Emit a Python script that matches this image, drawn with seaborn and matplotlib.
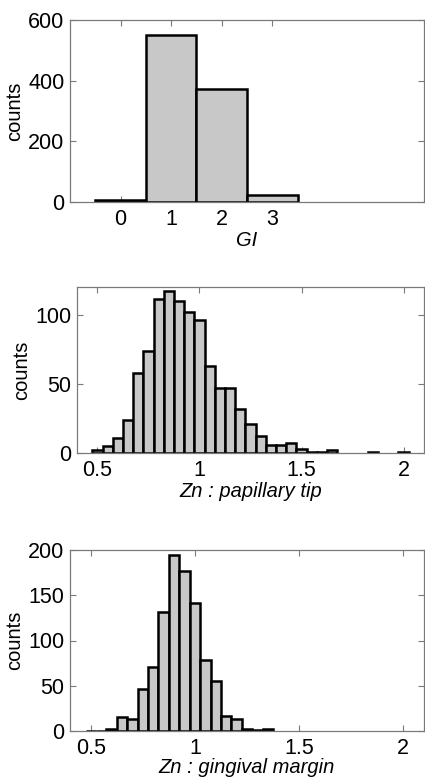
import numpy as np
import pandas as pd
import matplotlib
matplotlib.use("Agg")
import matplotlib.pyplot as plt
import seaborn as sns

# ---- data ----
gi_levels = [0, 1, 2, 3]
gi_counts = [5, 550, 373, 22]

tip_centers = [0.50, 0.55, 0.60, 0.65, 0.70, 0.75, 0.80, 0.85, 0.90, 0.95,
               1.00, 1.05, 1.10, 1.15, 1.20, 1.25, 1.30, 1.35, 1.40, 1.45,
               1.50, 1.55, 1.60, 1.65, 1.70, 1.75, 1.80, 1.85, 1.90, 1.95, 2.00]
tip_counts = [2, 5, 11, 24, 58, 74, 111, 117, 110, 102,
              96, 63, 47, 47, 32, 21, 12, 6, 6, 7,
              3, 1, 1, 2, 0, 0, 0, 1, 0, 0, 1]

margin_centers = [0.50, 0.55, 0.60, 0.65, 0.70, 0.75, 0.80, 0.85, 0.90, 0.95,
                  1.00, 1.05, 1.10, 1.15, 1.20, 1.25, 1.30, 1.35]
margin_counts = [0, 0, 2, 15, 13, 46, 71, 132, 194, 177,
                 141, 79, 55, 17, 13, 2, 1, 2]

gi_ticks = [0, 1, 2, 3]
gi_yticks = [0, 200, 400, 600]
zn_xticks = [0.5, 1, 1.5, 2]
zn_xticklabels = ["0.5", "1", "1.5", "2"]
tip_yticks = [0, 50, 100]
margin_yticks = [0, 50, 100, 150, 200]

# ---- style ----
sns.set_style("white")
plt.rcParams['font.family'] = ['Liberation Sans', 'DejaVu Sans']
plt.rcParams['font.size'] = 14
plt.rcParams['text.color'] = 'black'
plt.rcParams['axes.labelcolor'] = 'black'
plt.rcParams['xtick.color'] = 'black'
plt.rcParams['ytick.color'] = 'black'

W, H = 425, 777
fig = plt.figure(figsize=(W / 100, H / 100), dpi=100)

spine_col = '#7a7a7a'
face = '#c8c8c8'
lw_bar = 1.8

def style_ax(ax):
    for s in ax.spines.values():
        s.set_visible(True)
        s.set_color(spine_col)
        s.set_linewidth(0.9)
    ax.tick_params(direction='in', length=4, width=0.8, color=spine_col,
                   labelcolor='black',
                   top=True, right=True, bottom=True, left=True,
                   labelsize=15.5, pad=5)
    ax.tick_params(axis='y', pad=4)

# Panel 1
ax1 = fig.add_axes([70 / W, 1 - 202 / H, 354 / W, 182 / H])
df1 = pd.DataFrame({"GI": gi_levels, "n": gi_counts})
sns.histplot(data=df1, x="GI", weights="n", discrete=True, ax=ax1,
             color=face, edgecolor='black', linewidth=lw_bar, alpha=1)
ax1.set_xlim(-1, 6)
ax1.set_ylim(0, 600)
ax1.set_xticks(gi_ticks)
ax1.set_yticks(gi_yticks)
ax1.set_xlabel("GI", style='italic', fontsize=14.5, labelpad=1)
ax1.set_ylabel("counts", fontsize=14.5, labelpad=3)
style_ax(ax1)

# Panel 2
ax2 = fig.add_axes([77 / W, 1 - 453 / H, 347 / W, 166 / H])
df2 = pd.DataFrame({"x": tip_centers, "n": tip_counts})
sns.histplot(data=df2, x="x", weights="n", binwidth=0.05,
             binrange=(0.475, 2.025), ax=ax2,
             color=face, edgecolor='black', linewidth=lw_bar, alpha=1)
for p in ax2.patches:
    if p.get_height() == 0:
        p.set_visible(False)
ax2.set_xlim(0.4, 2.1)
ax2.set_ylim(0, 120)
ax2.set_xticks(zn_xticks)
ax2.set_xticklabels(zn_xticklabels)
ax2.set_yticks(tip_yticks)
ax2.set_xlabel("Zn : papillary tip", style='italic', fontsize=14.5, labelpad=1)
ax2.set_ylabel("counts", fontsize=14.5, labelpad=3)
style_ax(ax2)

# Panel 3
ax3 = fig.add_axes([70 / W, 1 - 731 / H, 354 / W, 181 / H])
df3 = pd.DataFrame({"x": margin_centers, "n": margin_counts})
sns.histplot(data=df3, x="x", weights="n", binwidth=0.05,
             binrange=(0.475, 1.375), ax=ax3,
             color=face, edgecolor='black', linewidth=lw_bar, alpha=1)
ax3.set_xlim(0.4, 2.1)
ax3.set_ylim(0, 200)
ax3.set_xticks(zn_xticks)
ax3.set_xticklabels(zn_xticklabels)
ax3.set_yticks(margin_yticks)
ax3.set_xlabel("Zn : gingival margin", style='italic', fontsize=14.5, labelpad=-1)
ax3.set_ylabel("counts", fontsize=14.5, labelpad=3)
style_ax(ax3)

fig.savefig("out.png", dpi=100, facecolor='white')
